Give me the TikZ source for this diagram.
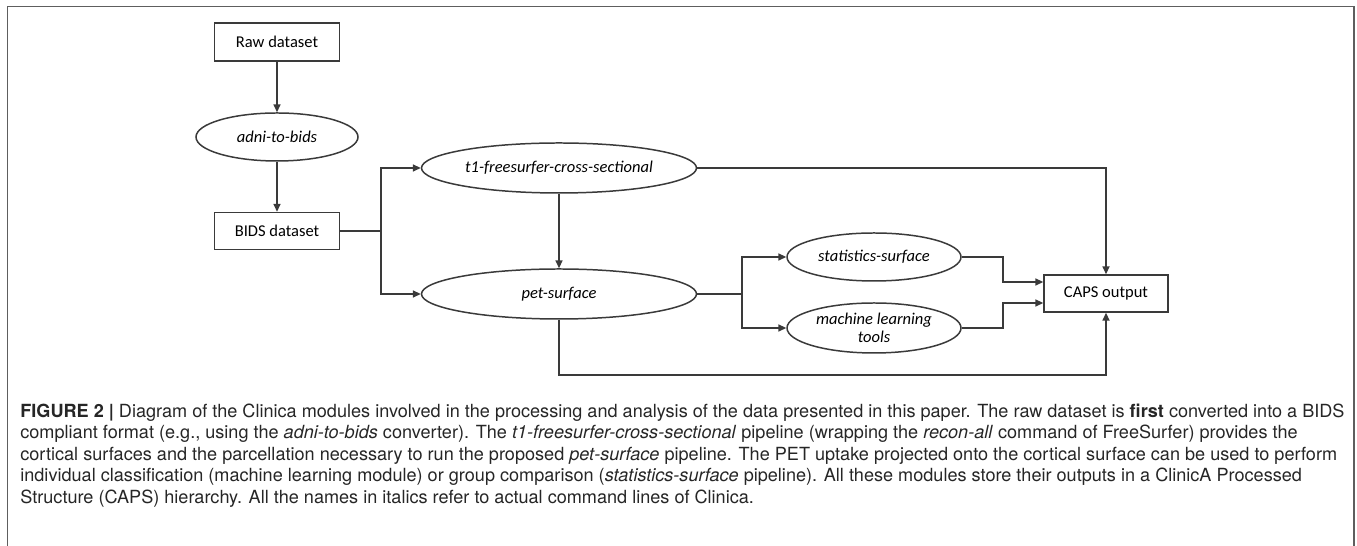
\documentclass[tikz,border=0pt]{standalone}
\usepackage{fontspec}
\setmainfont{Carlito}
\newfontfamily\capfont{TeX Gyre Heros}
\usepackage{tikz}
\usetikzlibrary{shapes,arrows.meta,calc,positioning}
\definecolor{linegray}{HTML}{3A3A3A}
\definecolor{framegray}{HTML}{5E5E5E}
\definecolor{captext}{HTML}{262626}

\begin{document}
\begin{tikzpicture}[
		box/.style={draw=linegray, line width=0.85pt, minimum width=2.5cm, minimum height=0.76cm, inner sep=0pt, font=\fontsize{9.4}{10}\selectfont},
		module/.style={draw=linegray, line width=0.85pt, ellipse, inner sep=0pt, align=center, font=\fontsize{9.4}{10.5}\selectfont\itshape},
		flow/.style={draw=linegray, line width=0.85pt, -{Triangle[length=4.5pt,width=4pt]}}
	]
		\useasboundingbox (0,0) rectangle (27.14,10.92);
		% outer frame, open at the bottom
		\draw[framegray, line width=1.1pt] (0.15,0) -- (0.15,10.79) -- (27.08,10.79) -- (27.08,0);

		\node[box] (raw) at (5.54,10.08) {Raw dataset};
		\node[module, minimum width=3.24cm, minimum height=0.96cm] (adni) at (5.54,8.18) {adni-to-bids};
		\node[box, minimum height=0.74cm] (bids) at (5.54,6.30) {BIDS dataset};
		\node[module, minimum width=5.5cm, minimum height=1.0cm] (t1) at (11.18,7.56) {t1-freesurfer-cross-sectional};
		\node[module, minimum width=5.5cm, minimum height=1.0cm] (pet) at (11.18,5.04) {pet-surface};
		\node[module, minimum width=3.48cm, minimum height=0.96cm] (stats) at (17.48,5.78) {statistics-surface};
		\node[module, minimum width=3.48cm, minimum height=1.0cm] (ml) at (17.48,4.36) {machine learning\\tools};
		\node[box, minimum width=2.48cm, minimum height=0.74cm] (caps) at (22.12,5.05) {CAPS output};

		\coordinate (s1) at (7.62,6.30);
		\coordinate (s2) at (14.84,5.04);
		\coordinate (j1) at (20.06,5.28);
		\coordinate (j2) at (20.06,4.86);
		\coordinate (b) at (22.12,3.42);

		\draw[flow] (raw) -- (adni);
		\draw[flow] (adni) -- (bids);
		\draw[linegray, line width=0.85pt] (bids) -- (s1);
		\draw[flow] (s1) |- (t1);
		\draw[flow] (s1) |- (pet);
		\draw[flow] (t1) -- (pet);
		\draw[linegray, line width=0.85pt] (pet) -- (s2);
		\draw[flow] (s2) |- (stats);
		\draw[flow] (s2) |- (ml);
		\draw[flow] (stats) -| (j1) -- (caps.west |- j1);
		\draw[flow] (ml) -| (j2) -- (caps.west |- j2);
		\draw[flow] (t1) -| (caps);
		\draw[flow] (pet) |- (b) -- (caps);

		\node[anchor=north west, align=left, inner sep=0pt, text=captext, font=\capfont\fontsize{10.3}{12.2}\selectfont] (caption) at (0.40,2.85)
			{\textbf{FIGURE 2 |} Diagram of the Clinica modules involved in the processing and analysis of the data presented in this paper. The raw dataset is \textbf{first} converted into a BIDS\\
			compliant format (e.g., using the \textit{adni-to-bids} converter). The \textit{t1-freesurfer-cross-sectional} pipeline (wrapping the \textit{recon-all} command of FreeSurfer) provides the\\
			cortical surfaces and the parcellation necessary to run the proposed \textit{pet-surface} pipeline. The PET uptake projected onto the cortical surface can be used to perform\\
			individual classification (machine learning module) or group comparison (\textit{statistics-surface} pipeline). All these modules store their outputs in a ClinicA Processed\\
			Structure (CAPS) hierarchy. All the names in italics refer to actual command lines of Clinica.};
	\end{tikzpicture}
\end{document}
